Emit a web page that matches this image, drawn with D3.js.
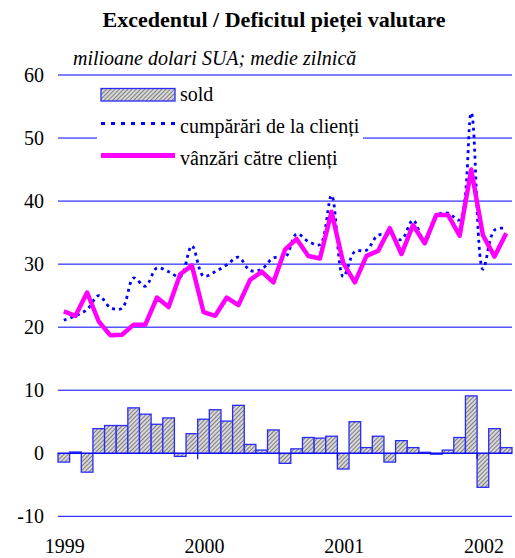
<!DOCTYPE html>
<html>
<head>
<meta charset="utf-8">
<script src="https://cdn.jsdelivr.net/npm/d3@7"></script>
<style>
  body { margin: 0; background: #fff; }
  svg text { font-family: "Liberation Serif", "Times New Roman", serif; fill: #000; }
</style>
</head>
<body>
<svg id="chart" width="515" height="558"></svg>
<script>
// monthly categories, Jan 1999 - Mar 2002
const months = [
	"1999-01","1999-02","1999-03","1999-04","1999-05","1999-06","1999-07","1999-08","1999-09","1999-10","1999-11","1999-12",
	"2000-01","2000-02","2000-03","2000-04","2000-05","2000-06","2000-07","2000-08","2000-09","2000-10","2000-11","2000-12",
	"2001-01","2001-02","2001-03","2001-04","2001-05","2001-06","2001-07","2001-08","2001-09","2001-10","2001-11","2001-12",
	"2002-01","2002-02","2002-03"
];

const sold = [
	-1.4, 0.2, -3.0, 3.9, 4.4, 4.4, 7.2, 6.2, 4.6, 5.6, -0.5, 3.1,
	5.4, 6.9, 5.1, 7.6, 1.4, 0.5, 3.7, -1.6, 0.7, 2.5, 2.4, 2.7,
	-2.5, 5.0, 0.9, 2.7, -1.4, 2.0, 0.9, 0.15, -0.15, 0.5, 2.5, 9.1,
	-5.4, 3.9, 0.9
];

const cumparari = [
	21.1, 21.8, 22.8, 25.0, 23.1, 23.0, 27.8, 26.5, 29.4, 28.8, 28.0, 32.9,
	28.1, 28.8, 29.9, 31.1, 29.0, 29.2, 31.0, 31.0, 34.8, 33.6, 33.1, 40.9,
	28.0, 32.0, 32.2, 34.6, 34.5, 33.9, 37.0, 33.5, 37.7, 38.1, 37.0, 54.0,
	29.2, 35.4, 35.7
];

const vanzari = [
	22.5, 21.8, 25.5, 20.9, 18.7, 18.8, 20.4, 20.4, 24.7, 23.2, 28.4, 29.8,
	22.4, 21.8, 24.7, 23.5, 27.5, 28.8, 27.1, 32.3, 34.0, 31.3, 30.9, 38.3,
	30.2, 27.1, 31.3, 32.1, 35.7, 31.6, 36.2, 33.3, 37.8, 37.8, 34.5, 45.0,
	34.6, 31.2, 34.9
];

const yTicks = [-10, 0, 10, 20, 30, 40, 50, 60];
const years = ["1999", "2000", "2001", "2002"];

const title = "Excedentul / Deficitul pieței valutare";
const subtitle = "milioane dolari SUA; medie zilnică";
const legendNames = ["sold", "cumpărări de la clienți", "vânzări către clienți"];

const blue = "#0000ff";
const magenta = "#ff00ff";

const svg = d3.select("#chart");

const x = d3.scaleBand()
	.domain(months)
	.range([58, 512])
	.padding(0);

const y = d3.scaleLinear()
	.domain([-10, 60])
	.range([516.3, 75]);

// hatch pattern for bars
const defs = svg.append("defs");
const pat = defs.append("pattern")
	.attr("id", "hatch")
	.attr("patternUnits", "userSpaceOnUse")
	.attr("width", 3)
	.attr("height", 3)
	.attr("patternTransform", "rotate(45)");
pat.append("rect")
	.attr("width", 3)
	.attr("height", 3)
	.attr("fill", "#d8d8d8");
pat.append("line")
	.attr("x1", 0).attr("y1", 0)
	.attr("x2", 0).attr("y2", 3)
	.attr("stroke", "#555")
	.attr("stroke-width", 1.4);

// title
svg.append("text")
	.attr("x", 274)
	.attr("y", 27)
	.attr("text-anchor", "middle")
	.attr("font-weight", "bold")
	.attr("font-size", 22)
	.text(title);

svg.append("text")
	.attr("x", 73)
	.attr("y", 65)
	.attr("font-style", "italic")
	.attr("font-size", 20)
	.text(subtitle);

// gridlines (skip 0, drawn as the axis)
svg.append("g")
	.selectAll("line")
	.data(yTicks.filter(d => d !== 0))
	.join("line")
	.attr("x1", x.range()[0])
	.attr("x2", x.range()[1])
	.attr("y1", d => y(d))
	.attr("y2", d => y(d))
	.attr("stroke", blue)
	.attr("stroke-width", 1);

// y labels
svg.append("g")
	.selectAll("text")
	.data(yTicks)
	.join("text")
	.attr("x", 44)
	.attr("y", d => y(d) + 7)
	.attr("text-anchor", "end")
	.attr("font-size", 20)
	.text(d => d);

// bars
svg.append("g")
	.selectAll("rect")
	.data(sold)
	.join("rect")
	.attr("x", (d, i) => x(months[i]))
	.attr("width", x.bandwidth())
	.attr("y", d => y(Math.max(0, d)))
	.attr("height", d => Math.abs(y(d) - y(0)))
	.attr("fill", "url(#hatch)")
	.attr("stroke", "#2a2aff")
	.attr("stroke-width", 1.3);

// zero axis with year ticks
svg.append("line")
	.attr("x1", x.range()[0])
	.attr("x2", x.range()[1])
	.attr("y1", y(0))
	.attr("y2", y(0))
	.attr("stroke", blue)
	.attr("stroke-width", 1.2);

const yearStarts = years.map(yr => yr + "-01");
svg.append("g")
	.selectAll("line")
	.data(yearStarts.slice(1))
	.join("line")
	.attr("x1", d => x(d))
	.attr("x2", d => x(d))
	.attr("y1", y(0))
	.attr("y2", y(0) + 6)
	.attr("stroke", blue)
	.attr("stroke-width", 1.2);

svg.append("g")
	.selectAll("text")
	.data(yearStarts)
	.join("text")
	.attr("x", d => x(d) + x.bandwidth() / 2 + 1)
	.attr("y", 553)
	.attr("text-anchor", "middle")
	.attr("font-size", 20)
	.text(d => d.slice(0, 4));

// lines
const cx = (d, i) => x(months[i]) + x.bandwidth() / 2;

const lineBuy = d3.line()
	.x(cx)
	.y(d => y(d))
	.curve(d3.curveCatmullRom);

const lineSell = d3.line()
	.x(cx)
	.y(d => y(d));

svg.append("path")
	.datum(cumparari)
	.attr("d", lineBuy)
	.attr("fill", "none")
	.attr("stroke", blue)
	.attr("stroke-width", 2.8)
	.attr("stroke-dasharray", "3,4");

svg.append("path")
	.datum(vanzari)
	.attr("d", lineSell)
	.attr("fill", "none")
	.attr("stroke", magenta)
	.attr("stroke-width", 4.5)
	.attr("stroke-linejoin", "round");

// legend
const lg = svg.append("g");
lg.append("rect")
	.attr("x", 97)
	.attr("y", 80)
	.attr("width", 266)
	.attr("height", 90)
	.attr("fill", "#fff");

lg.append("rect")
	.attr("x", 101)
	.attr("y", 88.5)
	.attr("width", 74)
	.attr("height", 12.5)
	.attr("fill", "url(#hatch)")
	.attr("stroke", "#2a2aff")
	.attr("stroke-width", 1.3);

lg.append("line")
	.attr("x1", 101).attr("x2", 175)
	.attr("y1", 123.5).attr("y2", 123.5)
	.attr("stroke", blue)
	.attr("stroke-width", 2.8)
	.attr("stroke-dasharray", "4,6");

lg.append("line")
	.attr("x1", 101).attr("x2", 175)
	.attr("y1", 155.5).attr("y2", 155.5)
	.attr("stroke", magenta)
	.attr("stroke-width", 5);

lg.selectAll("text.leg")
	.data(legendNames)
	.join("text")
	.attr("class", "leg")
	.attr("x", 180)
	.attr("y", (d, i) => [101, 133, 165][i])
	.attr("font-size", 20)
	.text(d => d);
</script>
</body>
</html>
